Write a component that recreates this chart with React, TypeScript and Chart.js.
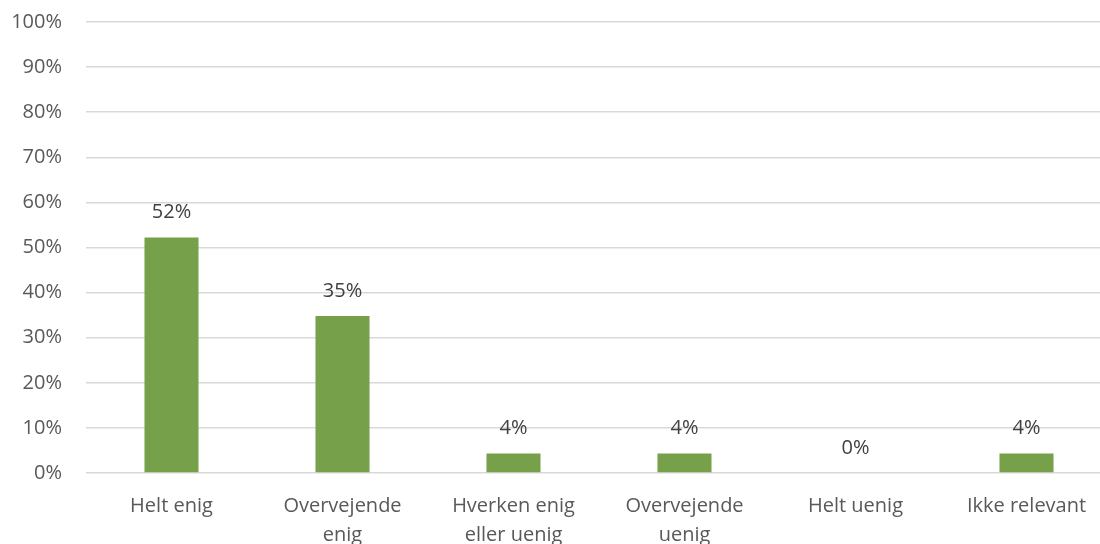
import React, { useEffect, useRef } from "react";
import { Chart, registerables } from "chart.js";

Chart.register(...registerables);

const categories: (string | string[])[] = [
  "Helt enig",
  ["Overvejende", "enig"],
  ["Hverken enig", "eller uenig"],
  ["Overvejende", "uenig"],
  "Helt uenig",
  "Ikke relevant",
];
const values = [52.2, 34.8, 4.3, 4.3, 0, 4.3];
const yTicks = [0, 10, 20, 30, 40, 50, 60, 70, 80, 90, 100];

const FONT = "'Open Sans', sans-serif";

const dataLabels = {
  id: "dataLabels",
  afterDatasetsDraw(chart: any) {
    const ctx = chart.ctx;
    const meta = chart.getDatasetMeta(0);
    ctx.save();
    ctx.font = `20px ${FONT}`;
    ctx.fillStyle = "#404040";
    ctx.textAlign = "center";
    ctx.textBaseline = "middle";
    meta.data.forEach((el: any, i: number) => {
      ctx.fillText(Math.round(values[i]) + "%", el.x, el.y - 25);
    });
    ctx.restore();
  },
};

export default function App() {
  const ref = useRef<HTMLCanvasElement>(null);
  useEffect(() => {
    if (!ref.current) return;
    const chart = new Chart(ref.current, {
      type: "bar",
      data: {
        labels: categories,
        datasets: [
          {
            data: values,
            backgroundColor: "#77A04B",
            barPercentage: 0.316,
            categoryPercentage: 1,
          },
        ],
      },
      options: {
        responsive: false,
        animation: false,
        devicePixelRatio: 1,
        layout: { padding: { top: 22, left: 0, right: 0, bottom: 0 } },
        plugins: { legend: { display: false }, tooltip: { enabled: false } },
        scales: {
          x: {
            grid: { display: false, drawTicks: false },
            border: { display: false },
            ticks: {
              color: "#595959",
              font: { family: FONT, size: 20, lineHeight: 1.45 },
              padding: 19,
              maxRotation: 0,
              autoSkip: false,
            },
            afterFit(scale: any) {
              scale.height = 71;
            },
          },
          y: {
            min: 0,
            max: 100,
            afterBuildTicks(scale: any) {
              scale.ticks = yTicks.map((v) => ({ value: v }));
            },
            grid: {
              color: "#D9D9D9",
              lineWidth: 1.5,
              drawTicks: true,
              tickLength: 24,
              tickColor: "rgba(0,0,0,0)",
            },
            border: { display: false },
            ticks: {
              color: "#595959",
              font: { family: FONT, size: 20 },
              padding: 0,
              callback: (v: any) => v + "%",
            },
            afterFit(scale: any) {
              scale.width = 86;
            },
          },
        },
      },
      plugins: [dataLabels],
    });
    return () => chart.destroy();
  }, []);
  return (
    <div
      style={{
        position: "absolute",
        left: 0,
        top: 0,
        width: 1100,
        height: 544,
        overflow: "hidden",
        background: "#fff",
      }}
    >
      <canvas ref={ref} width={1112} height={544} />
    </div>
  );
}
